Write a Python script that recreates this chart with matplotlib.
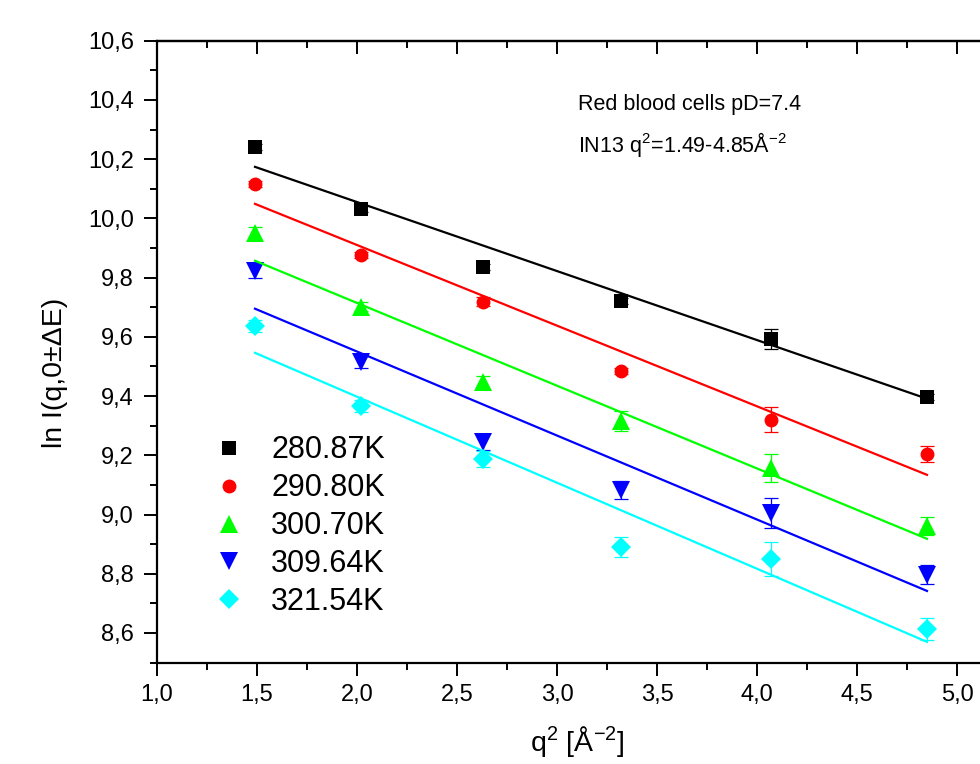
import matplotlib
matplotlib.use("Agg")
import matplotlib.pyplot as plt
from matplotlib.ticker import MultipleLocator, FuncFormatter
from matplotlib.lines import Line2D

plt.rcParams['font.family'] = ['Liberation Sans', 'DejaVu Sans']
plt.rcParams['mathtext.fontset'] = 'custom'
plt.rcParams['mathtext.rm'] = 'Liberation Sans'
plt.rcParams['mathtext.it'] = 'Liberation Sans'
plt.rcParams['mathtext.default'] = 'regular'

# ---- data ----
q2 = [1.49, 2.02, 2.63, 3.32, 4.07, 4.85]
temperatures = ['280.87K', '290.80K', '300.70K', '309.64K', '321.54K']

ln_I_280 = [10.242, 10.032, 9.836, 9.722, 9.592, 9.397]
ln_I_290 = [10.117, 9.877, 9.718, 9.485, 9.320, 9.205]
ln_I_300 = [9.951, 9.701, 9.448, 9.316, 9.157, 8.961]
ln_I_309 = [9.823, 9.516, 9.245, 9.083, 9.005, 8.796]
ln_I_321 = [9.637, 9.367, 9.188, 8.891, 8.850, 8.614]

err_280 = [0.010, 0.010, 0.010, 0.010, 0.034, 0.010]
err_290 = [0.010, 0.010, 0.015, 0.010, 0.042, 0.027]
err_300 = [0.020, 0.015, 0.020, 0.034, 0.048, 0.030]
err_309 = [0.025, 0.020, 0.027, 0.030, 0.052, 0.032]
err_321 = [0.020, 0.020, 0.027, 0.034, 0.056, 0.037]

# linear fit values at q2 = 1.49 and q2 = 4.85
fit_start = [10.174, 10.049, 9.857, 9.695, 9.546]
fit_end = [9.391, 9.134, 8.918, 8.742, 8.570]

series = [ln_I_280, ln_I_290, ln_I_300, ln_I_309, ln_I_321]
errors = [err_280, err_290, err_300, err_309, err_321]
colors = ['#000000', '#ff0000', '#00ff00', '#0000ff', '#00ffff']
markers = ['s', 'o', '^', 'v', 'D']
msizes = [9.6, 10.0, 12.5, 12.5, 9.8]

fig = plt.figure(figsize=(9.8, 7.64), dpi=100)
ax = fig.add_axes([157/980, 101.4/764, 840/980, 621.9/764])

handles = []
for y, e, c, m, ms, lo, hi, lab in zip(series, errors, colors, markers, msizes,
                                        fit_start, fit_end, temperatures):
    ax.errorbar(q2, y, yerr=e, fmt='none', ecolor=c, elinewidth=0.9,
                capsize=4.7, capthick=0.9, zorder=2)
    ax.plot(q2, y, linestyle='none', marker=m, color=c, markersize=ms,
            markeredgewidth=0, zorder=3)
    ax.plot([q2[0], q2[-1]], [lo, hi], color=c, linewidth=1.6, zorder=4)
    handles.append(Line2D([], [], linestyle='none', marker=m, color=c,
                          markersize=ms, markeredgewidth=0, label=lab))

ax.set_xlim(1.0, 5.2)
ax.set_ylim(8.5, 10.6)

fmt = FuncFormatter(lambda v, p: f"{v:.1f}".replace('.', ','))
ax.xaxis.set_major_locator(MultipleLocator(0.5))
ax.xaxis.set_minor_locator(MultipleLocator(0.25))
ax.yaxis.set_major_locator(MultipleLocator(0.2))
ax.yaxis.set_minor_locator(MultipleLocator(0.1))
ax.xaxis.set_major_formatter(fmt)
ax.yaxis.set_major_formatter(fmt)

for s in ['left', 'bottom', 'top']:
    ax.spines[s].set_linewidth(1.6)
ax.spines['right'].set_visible(False)

ax.tick_params(which='major', direction='out', length=9.5, width=1.4,
               labelsize=17, pad=6)
ax.tick_params(which='minor', direction='out', length=5, width=1.4)
ax.tick_params(axis='y', which='major', pad=7)

sec = ax.secondary_xaxis('top')
sec.xaxis.set_major_locator(MultipleLocator(0.5))
sec.xaxis.set_minor_locator(MultipleLocator(0.25))
sec.tick_params(which='major', direction='in', length=9.5, width=1.4, labeltop=False)
sec.tick_params(which='minor', direction='in', length=5, width=1.4)
sec.spines['top'].set_linewidth(1.6)

ax.set_xlabel(r'q$^{2}$ [Å$^{-2}$]', fontsize=20.5, labelpad=13)
ax.set_ylabel('ln I(q,0±ΔE)', fontsize=20.5)
ax.yaxis.set_label_coords(-0.106, 0.466)

ax.text(0.501, 0.8886, 'Red blood cells pD=7.4', transform=ax.transAxes,
        fontsize=15.5, va='baseline', ha='left')
ax.text(0.501, 0.821, r'IN13 q$^{2}$=1.49-4.85Å$^{-2}$', transform=ax.transAxes,
        fontsize=15.5, va='baseline', ha='left')

ax.legend(handles=handles, loc='upper left', bbox_to_anchor=(0.0496, 0.390),
          frameon=False, fontsize=22, handlelength=1.0, handletextpad=0.87,
          labelspacing=0.26, borderpad=0)

fig.savefig('out.png', dpi=100)
